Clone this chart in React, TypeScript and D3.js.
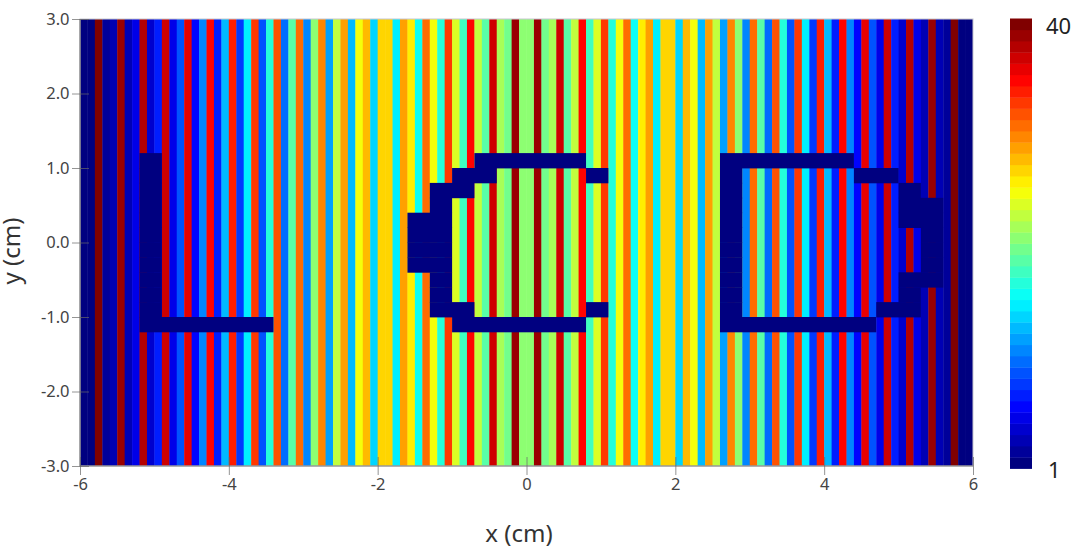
import * as d3 from 'd3';
import React, { useEffect, useRef } from 'react';

// material number per 0.1 cm column, left to right
const columnValues = [
	1, 1, 40, 2, 3, 39, 3, 5, 38, 4, 7, 37, 5, 9, 36, 6, 11, 35, 7, 13, 34, 8, 15, 33, 9, 17, 32, 10, 19, 31,
	11, 21, 30, 12, 23, 29, 13, 25, 28, 14, 27, 27, 15, 29, 26, 16, 31, 25, 17, 33, 24, 18, 35, 23, 19, 37, 22, 20, 39, 21,
	21, 39, 20, 22, 37, 19, 23, 35, 18, 24, 33, 17, 25, 31, 16, 26, 29, 15, 27, 27, 14, 28, 25, 13, 29, 23, 12, 30, 21, 11,
	31, 19, 10, 32, 17, 9, 33, 15, 8, 34, 13, 7, 35, 11, 6, 36, 9, 5, 37, 7, 4, 38, 5, 3, 39, 3, 2, 40, 1, 1,
];

// top edge of each 0.2 cm row holding material 1, and its x spans in cm
const blockedRowTops = [1.2, 1.0, 0.8, 0.6, 0.4, 0.2, 0.0, -0.2, -0.4, -0.6, -0.8, -1.0];
const blockedSpans = [
	[[-5.2, -4.9], [-0.7, 0.8], [2.6, 4.4]],
	[[-5.2, -4.9], [-1.0, -0.4], [0.8, 1.1], [2.6, 2.9], [4.4, 5.0]],
	[[-5.2, -4.9], [-1.3, -0.7], [2.6, 2.9], [5.0, 5.3]],
	[[-5.2, -4.9], [-1.3, -1.0], [2.6, 2.9], [5.0, 5.6]],
	[[-5.2, -4.9], [-1.6, -1.0], [2.6, 2.9], [5.0, 5.6]],
	[[-5.2, -4.9], [-1.6, -1.0], [2.6, 2.9], [5.3, 5.6]],
	[[-5.2, -4.9], [-1.6, -1.0], [2.6, 2.9], [5.3, 5.6]],
	[[-5.2, -4.9], [-1.6, -1.0], [2.6, 2.9], [5.3, 5.6]],
	[[-5.2, -4.9], [-1.3, -1.0], [2.6, 2.9], [5.0, 5.6]],
	[[-5.2, -4.9], [-1.3, -1.0], [2.6, 2.9], [5.0, 5.3]],
	[[-5.2, -4.9], [-1.3, -0.7], [0.8, 1.1], [2.6, 2.9], [4.7, 5.3]],
	[[-5.2, -3.4], [-1.0, 0.8], [2.6, 4.7]],
];

const xTicks = [-6, -4, -2, 0, 2, 4, 6];
const yTicks = [-3, -2, -1, 0, 1, 2, 3];
const colorbarLabels = [1, 40];

const FONT = '"Noto Sans", "Open Sans", sans-serif';
const columnWidth = 0.1;
const rowHeight = 0.2;

const App = () => {
	const svgRef = useRef<SVGSVGElement>(null);

	useEffect(() => {
		const svg = d3.select(svgRef.current);
		svg.selectAll('*').remove();

		const x = d3.scaleLinear().domain([-6, 6]).range([80, 973]);
		const y = d3.scaleLinear().domain([-3, 3]).range([466, 19]);

		// same 40 level jet as the colorbar
		const color = d3.scaleLinear<string>()
			.domain([0, 0.125, 0.375, 0.625, 0.875, 1].map((t) => 1 + t * 39))
			.range(['#000080', '#0000ff', '#00ffff', '#ffff00', '#ff0000', '#800000']);

		const stripes = svg.append('g');
		stripes.selectAll('rect')
			.data(columnValues)
			.join('rect')
			.attr('x', (_, i) => x(-6 + i * columnWidth))
			.attr('y', y(3))
			.attr('width', (_, i) => x(columnWidth) - x(0) + (i < columnValues.length - 1 ? 0.4 : 0))
			.attr('height', y(-3) - y(3))
			.attr('fill', (d) => color(d));

		const blocks = blockedRowTops.flatMap((top, i) => blockedSpans[i].map(([x0, x1]) => ({ top, x0, x1 })));
		svg.append('g')
			.selectAll('rect')
			.data(blocks)
			.join('rect')
			.attr('x', (d) => x(d.x0))
			.attr('y', (d) => y(d.top))
			.attr('width', (d) => x(d.x1) - x(d.x0))
			.attr('height', y(0) - y(rowHeight) + 0.4)
			.attr('fill', color(1));

		// frame
		svg.append('rect')
			.attr('x', x(-6))
			.attr('y', y(3))
			.attr('width', x(6) - x(-6))
			.attr('height', y(-3) - y(3))
			.attr('fill', 'none')
			.attr('stroke', '#c8c8d0')
			.attr('stroke-width', 1);
		svg.append('path')
			.attr('d', `M${x(-6)},${y(3)}V${y(-3)}H${x(6)}`)
			.attr('fill', 'none')
			.attr('stroke', '#808080')
			.attr('stroke-width', 1.2);

		const xAxis = svg.append('g')
			.attr('transform', `translate(0,${y(-3)})`)
			.call(d3.axisBottom(x).tickValues(xTicks).tickFormat((d) => String(d)));
		xAxis.select('.domain').remove();
		xAxis.selectAll('.tick line').attr('y1', -9).attr('y2', 9).attr('stroke', '#666').attr('stroke-opacity', 0.7);
		xAxis.selectAll('.tick text')
			.attr('y', 24)
			.attr('dy', 0)
			.attr('fill', '#444')
			.style('font-family', FONT)
			.style('font-size', '16.5px');

		const yAxis = svg.append('g')
			.attr('transform', `translate(${x(-6)},0)`)
			.call(d3.axisLeft(y).tickValues(yTicks).tickFormat((d) => (+d).toFixed(1)));
		yAxis.select('.domain').remove();
		yAxis.selectAll('.tick line').attr('x1', -8).attr('x2', 9).attr('stroke', '#666').attr('stroke-opacity', 0.7);
		yAxis.selectAll('.tick text')
			.attr('x', -10.5)
			.attr('fill', '#444')
			.style('font-family', FONT)
			.style('font-size', '16.5px');

		svg.append('text')
			.attr('x', 519)
			.attr('y', 542)
			.attr('text-anchor', 'middle')
			.attr('fill', '#333')
			.style('font-family', FONT)
			.style('font-size', '24px')
			.text('x (cm)');

		svg.append('text')
			.attr('transform', 'translate(20,251) rotate(-90)')
			.attr('text-anchor', 'middle')
			.attr('fill', '#333')
			.style('font-family', FONT)
			.style('font-size', '24px')
			.text('y (cm)');

		// colorbar
		const levels = d3.range(1, 41);
		const bar = d3.scaleBand<number>().domain(levels).range([468.5, 18.5]);
		svg.append('g')
			.selectAll('rect')
			.data(levels)
			.join('rect')
			.attr('x', 1010)
			.attr('y', (d) => bar(d) as number)
			.attr('width', 22)
			.attr('height', bar.bandwidth() + 0.4)
			.attr('fill', (d) => color(d));

		svg.append('g')
			.selectAll('text')
			.data(colorbarLabels)
			.join('text')
			.attr('x', (d) => (d === 1 ? 1048 : 1046))
			.attr('y', (d) => (d === 1 ? 478 : 34))
			.attr('fill', '#222')
			.style('font-family', FONT)
			.style('font-size', '22px')
			.text((d) => d);
	}, []);

	return (
		<svg
			ref={svgRef}
			width={1080}
			height={555}
			style={{ position: 'absolute', left: 0, top: 0, background: '#fff' }}
		/>
	);
};

export default App;
